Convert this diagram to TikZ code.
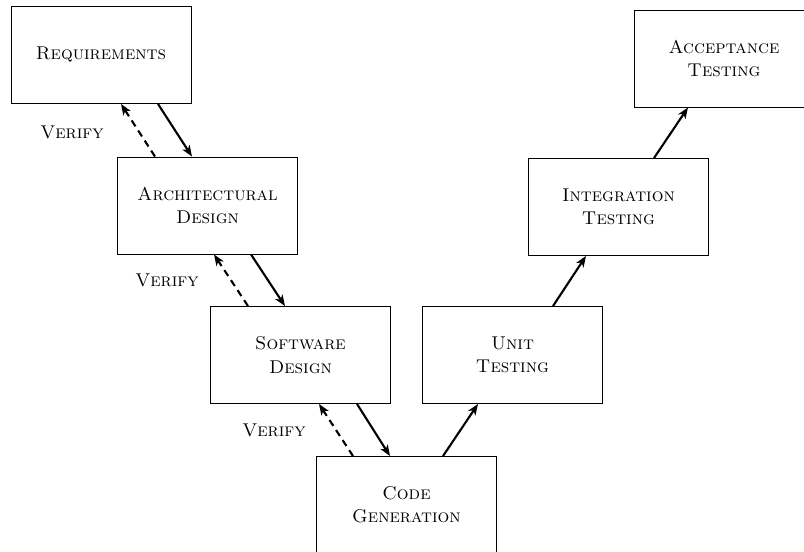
\documentclass[tikz,border=0pt]{standalone}
\usepackage{fontspec}
\usetikzlibrary{arrows.meta}
\begin{document}
\begin{tikzpicture}[x=1pt,y=-1pt,
  stage/.style={draw,line width=0.9pt,minimum width=180pt,minimum height=97pt,inner sep=0pt,align=center,font=\fontsize{18.5}{23.3}\selectfont\scshape},
  lbl/.style={inner sep=0pt,font=\fontsize{18.5}{23.3}\selectfont\scshape},
  flow/.style={line width=2.1pt,-{Stealth[length=11pt,width=8.5pt,inset=3pt]}},
  back/.style={flow,dash pattern=on 7pt off 5pt}]
\useasboundingbox (0,0) rectangle (804,552);
\node[stage] (req)  at (101,55)    {Requirements};
\node[stage] (arch) at (207.5,205.5) {Architectural\\Design};
\node[stage] (soft) at (300.5,355) {Software\\Design};
\node[stage] (code) at (406.5,505) {Code\\Generation};
\node[stage] (unit) at (512.5,355) {Unit\\Testing};
\node[stage] (int)  at (618.5,207) {Integration\\Testing};
\node[stage] (acc)  at (724,58.5)  {Acceptance\\Testing};
\node[lbl] (v1) at (72,132) {Verify};
\node[lbl] (v2) at (167,280) {Verify};
\node[lbl] (v3) at (274,430) {Verify};
\draw[flow] ([xshift=57pt]req.south) -- ([xshift=-15.5pt]arch.north);
\draw[back] ([xshift=-52.5pt]arch.north) -- ([xshift=20pt]req.south);
\draw[flow] ([xshift=43.5pt]arch.south) -- ([xshift=-15.5pt]soft.north);
\draw[back] ([xshift=-52.5pt]soft.north) -- ([xshift=6.5pt]arch.south);
\draw[flow] ([xshift=56.5pt]soft.south) -- ([xshift=-16.5pt]code.north);
\draw[back] ([xshift=-53.5pt]code.north) -- ([xshift=18.5pt]soft.south);
\draw[flow] ([xshift=36.5pt]code.north) -- ([xshift=-34.5pt]unit.south);
\draw[flow] ([xshift=40.5pt]unit.north) -- ([xshift=-32.5pt]int.south);
\draw[flow] ([xshift=35.5pt]int.north) -- ([xshift=-36pt]acc.south);
\end{tikzpicture}
\end{document}
